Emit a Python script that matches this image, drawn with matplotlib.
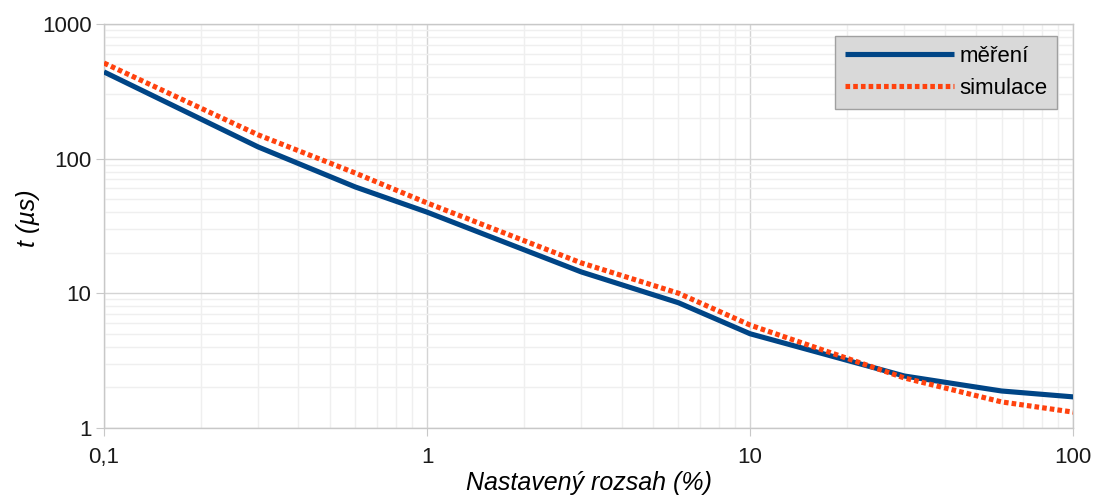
import matplotlib.pyplot as plt
from matplotlib.ticker import FuncFormatter, LogLocator, NullFormatter

plt.rcParams['font.family'] = ['Liberation Sans', 'DejaVu Sans']

# data
x_mereni = [0.1, 0.3, 0.6, 1, 3, 6, 10, 30, 60, 100]
t_mereni = [440, 122, 61.5, 40, 14.4, 8.5, 5.0, 2.43, 1.88, 1.70]

x_simulace = [0.1, 0.3, 0.6, 1, 3, 6, 10, 30, 60, 100]
t_simulace = [512, 150, 78, 46.8, 16.8, 10.0, 5.8, 2.35, 1.56, 1.31]

labels = ['měření', 'simulace']

fig = plt.figure(figsize=(10.94, 4.97), dpi=100)
ax = fig.add_axes([0.095, 0.139, 0.886, 0.813])

ax.plot(x_mereni, t_mereni, color='#004586', lw=3.7, label=labels[0],
        solid_capstyle='butt', zorder=3)
ax.plot(x_simulace, t_simulace, color='#ff420e', lw=3.7, label=labels[1],
        linestyle=(0, (0.9, 0.6)), dash_capstyle='butt', zorder=3)

ax.set_xscale('log')
ax.set_yscale('log')
ax.set_xlim(0.1, 100)
ax.set_ylim(1, 1000)

ax.xaxis.set_minor_locator(LogLocator(base=10, subs=range(2, 10)))
ax.yaxis.set_minor_locator(LogLocator(base=10, subs=range(2, 10)))
ax.xaxis.set_minor_formatter(NullFormatter())
ax.yaxis.set_minor_formatter(NullFormatter())
fmt = FuncFormatter(lambda v, p: ('%g' % v).replace('.', ','))
ax.xaxis.set_major_formatter(fmt)
ax.yaxis.set_major_formatter(fmt)

ax.grid(True, which='major', color='#d4d4d4', lw=1)
ax.grid(True, which='minor', color='#efefef', lw=1)
ax.set_axisbelow(True)
for s in ax.spines.values():
    s.set_color('#c8c8c8')
    s.set_linewidth(1)
ax.tick_params(which='major', length=6, color='#c8c8c8', labelsize=16,
               labelcolor='#1a1a1a')
ax.tick_params(axis='x', which='major', pad=8)
ax.tick_params(axis='y', which='major', pad=3)
ax.tick_params(which='minor', length=0)

ax.set_xlabel('Nastavený rozsah (%)', fontsize=18, style='italic')
ax.xaxis.set_label_coords(0.5, -0.107)
ax.set_ylabel('t (µs)', fontsize=18, style='italic')
ax.yaxis.set_label_coords(-0.066, 0.52)

leg = ax.legend(loc='upper right', bbox_to_anchor=(0.9835, 0.97), fontsize=16,
                facecolor='#d9d9d9', edgecolor='#a0a0a0', framealpha=1,
                fancybox=False, handlelength=4.9, handletextpad=0.25,
                borderpad=0.45, labelspacing=0.5, borderaxespad=0)
leg.get_frame().set_linewidth(1)

fig.savefig('out.png', dpi=100)
